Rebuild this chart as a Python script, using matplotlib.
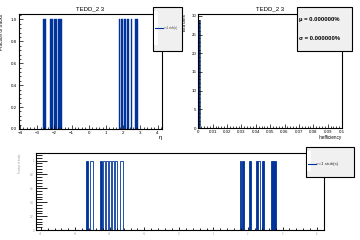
import numpy as np
import matplotlib
matplotlib.use("Agg")
import matplotlib.pyplot as plt
from matplotlib.patches import Rectangle
from matplotlib.lines import Line2D
from matplotlib.ticker import MultipleLocator

plt.rcParams["font.family"] = ["Liberation Sans", "DejaVu Sans"]

# ================================
# DATA
# ================================

title = "TEDD_2 3"
legend_label = ">=1 stub(s)"

# eta bins with fraction of tracks = 1 (top-left panel)
eta_lo = [-2.67, -2.27, -2.03, -1.80, 1.74, 1.90, 2.05, 2.25, 2.44, 2.69]
eta_hi = [-2.46, -2.09, -1.86, -1.57, 1.80, 1.99, 2.15, 2.34, 2.52, 2.85]
eta_val = [1, 1, 1, 1, 1, 1, 1, 1, 1, 1]

# same distribution as drawn in the wide bottom panel
wide_lo = [-2.69, -2.57, -2.28, -2.19, -2.10, -2.02, -1.93, -1.84, -1.70,
           1.755, 1.84, 2.04, 2.24, 2.28, 2.41, 2.68]
wide_hi = [-2.63, -2.48, -2.22, -2.13, -2.04, -1.96, -1.87, -1.79, -1.62,
           1.785, 1.89, 2.10, 2.28, 2.36, 2.47, 2.82]
wide_val = [1] * 16
wide_filled = [True, False, True, False, False, False, False, False, False,
               True, True, True, True, False, True, True]

# inefficiency histogram (top-right panel)
ineff_bin_lo = [0.0]
ineff_bin_w = [0.001]
ineff_count = [29]

mu_text = "\u03bc = 0.000000%"
sigma_text = "\u03c3 = 0.000000%"

blue = "#00349a"

fig = plt.figure(figsize=(3.6, 2.4), dpi=100)

# ================================
# TOP LEFT: fraction of tracks vs eta
# ================================
ax1 = fig.add_axes([19 / 360, 1 - 129 / 240, 143 / 360, 115 / 240])
ax1.bar(eta_lo, eta_val, width=np.array(eta_hi) - np.array(eta_lo),
        align="edge", color=blue, edgecolor=blue, linewidth=0.3)
ax1.set_xlim(-4.06, 4.26)
ax1.set_ylim(0, 1.05)
ax1.xaxis.set_major_locator(MultipleLocator(1))
ax1.xaxis.set_minor_locator(MultipleLocator(0.2))
ax1.yaxis.set_major_locator(MultipleLocator(0.2))
ax1.yaxis.set_minor_locator(MultipleLocator(0.04))
ax1.set_title(title, fontsize=4.3, pad=3)
ax1.set_ylabel("Fraction of tracks", fontsize=3.3, loc="top", labelpad=5)
ax1.set_xlabel("\u03b7", fontsize=4.2, loc="right", labelpad=0)

# ================================
# TOP RIGHT: inefficiency
# ================================
ax2 = fig.add_axes([198.3 / 360, 1 - 128 / 240, 143.7 / 360, 113.7 / 240])
ax2.bar(ineff_bin_lo, ineff_count, width=ineff_bin_w, align="edge",
        color=blue, edgecolor="black", linewidth=0.4, linestyle=(0, (1, 1)))
ax2.set_xlim(0, 0.1)
ax2.set_ylim(0, 30.45)
ax2.xaxis.set_minor_locator(MultipleLocator(0.002))
ax2.yaxis.set_major_locator(MultipleLocator(5))
ax2.yaxis.set_minor_locator(MultipleLocator(1))
ax2.set_xticks(np.arange(0, 0.1001, 0.01))
ax2.set_xticklabels(["0", "0.01", "0.02", "0.03", "0.04", "0.05", "0.06",
                     "0.07", "0.08", "0.09", "0.1"])
ax2.set_title(title, fontsize=4.3, pad=3)
ax2.set_ylabel("Eta bins", fontsize=3.3, loc="top", labelpad=3)
ax2.set_xlabel("Inefficiency", fontsize=3.3, loc="right", labelpad=1)

for ax in (ax1, ax2):
    ax.tick_params(which="both", direction="in", top=False, right=False,
                   labelsize=3.2, pad=1.5, width=0.5)
    ax.tick_params(which="major", length=3)
    ax.tick_params(which="minor", length=1.5)
    for s in ax.spines.values():
        s.set_linewidth(0.8)

# ================================
# BOTTOM: wide copy
# ================================
ax3 = fig.add_axes([36 / 360, 1 - 230 / 240, 288 / 360, 76.7 / 240])
for lo, hi, v, f in zip(wide_lo, wide_hi, wide_val, wide_filled):
    ax3.bar(lo, v, width=hi - lo, align="edge",
            color=blue if f else "white", edgecolor=blue, linewidth=0.6)
ax3.set_xlim(-4.136, 4.2)
ax3.set_ylim(0, 1.105)
ax3.xaxis.set_major_locator(MultipleLocator(1))
ax3.xaxis.set_minor_locator(MultipleLocator(0.2))
ax3.yaxis.set_minor_locator(MultipleLocator(0.04))
ax3.set_yticks([0, 0.2, 0.4, 0.6, 0.8, 1.0])
ax3.set_yticklabels(["0", "0.2", "0.4", "0.6", "0.8", "1"])
ax3.tick_params(which="both", direction="in", top=False, right=False,
                labelsize=1.8, labelcolor="#999999", pad=1.5, width=0.6)
ax3.tick_params(axis="y", which="major", length=8)
ax3.tick_params(axis="y", which="minor", length=4)
ax3.tick_params(axis="x", which="major", length=2.5)
ax3.tick_params(axis="x", which="minor", length=1.2)
ax3.set_ylabel("Fraction of tracks", fontsize=1.8, color="#999999",
               loc="top", labelpad=6)
for s in ax3.spines.values():
    s.set_linewidth(0.8)

# ================================
# BOXES (legends, stats)
# ================================
def draw_box(x0, y0, x1, y1):
    fig.patches.append(Rectangle((x0 / 360, 1 - y1 / 240), (x1 - x0) / 360,
                                 (y1 - y0) / 240, transform=fig.transFigure,
                                 facecolor="#f0f0f0", edgecolor="black",
                                 linewidth=0.8, zorder=5))


def draw_legend(x0, y0, x1, y1, ly, fs):
    draw_box(x0, y0, x1, y1)
    fig.patches.append(Rectangle(((x0 + 1) / 360, 1 - (y1 - 6) / 240), 4 / 360,
                                 (y1 - y0 - 10) / 240, transform=fig.transFigure,
                                 facecolor="white", edgecolor="none", zorder=6))
    fig.lines.append(Line2D([(x0 + 2) / 360, (x0 + 10) / 360],
                            [1 - ly / 240, 1 - ly / 240],
                            transform=fig.transFigure, color=blue,
                            linewidth=0.8, zorder=7))
    fig.text((x0 + 10.5) / 360, 1 - ly / 240, legend_label, fontsize=fs,
             va="center", ha="left", color="#333333", zorder=7)


draw_legend(153, 7, 182, 51, 28, 1.8)
draw_legend(306, 147, 354, 177, 164, 3.2)

draw_box(297, 7, 352, 51)
fig.text(299 / 360, 1 - 19 / 240, mu_text, fontsize=4.2, weight="bold",
         va="center", ha="left", zorder=7)
fig.text(299 / 360, 1 - 39 / 240, sigma_text, fontsize=4.2, weight="bold",
         va="center", ha="left", zorder=7)

fig.savefig("out.png", dpi=100)
